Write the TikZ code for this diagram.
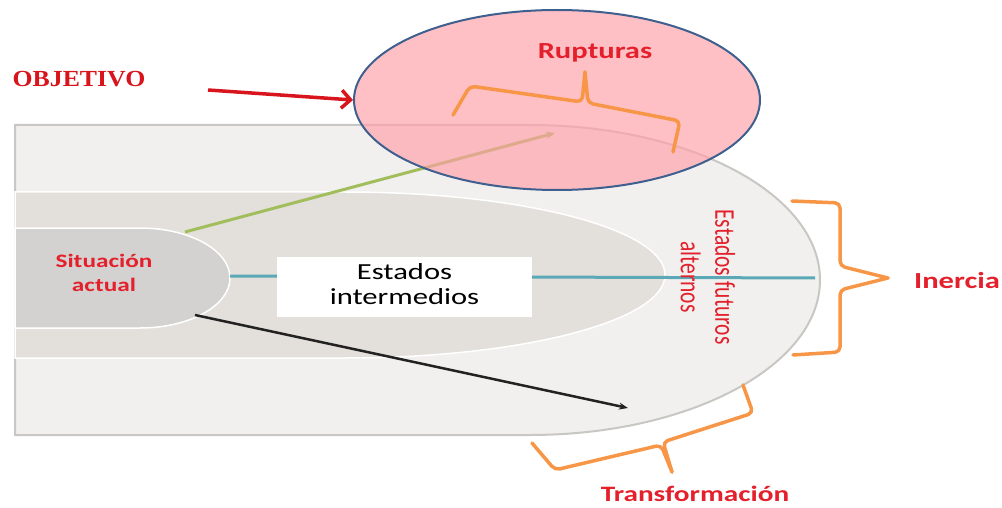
\documentclass[tikz,border=0pt]{standalone}
\usepackage{fontspec}
\setmainfont{Carlito}
\newfontfamily\objfont{Liberation Serif}
\usetikzlibrary{arrows.meta,shapes.geometric}
\definecolor{outerfill}{HTML}{F1F0EE}
\definecolor{outerline}{HTML}{C9C7C3}
\definecolor{midfill}{HTML}{E3DFDB}
\definecolor{smallfill}{HTML}{D4D2D0}
\definecolor{lblred}{HTML}{E3202B}
\definecolor{objred}{HTML}{D8141C}
\definecolor{brorange}{HTML}{F79646}
\definecolor{pinkfill}{HTML}{FF9EA6}
\definecolor{ellline}{HTML}{3F5F8E}
\definecolor{greenl}{HTML}{A2BE5C}
\definecolor{teall}{HTML}{5BA9B7}
\definecolor{darkl}{HTML}{222222}
\newcommand{\wx}[1]{\scalebox{1.33}[1]{#1}}
\newcommand{\wy}[1]{\scalebox{1}[1.33]{#1}}
\tikzset{
  lbl/.style={text=lblred, inner sep=0pt},
  bracestyle/.style={draw=brorange, line width=3.5pt, rounded corners=5pt, line cap=round, line join=round},
  bandshape/.style={draw=white, line width=1.5pt},
  conn/.style={line width=3pt, -{Stealth[length=9pt,width=7pt]}},
}
\begin{document}
\begin{tikzpicture}[x=1pt,y=-1pt]
\useasboundingbox (0,0) rectangle (1002,508);
% outer band
\draw[fill=outerfill, draw=outerline, line width=2pt]
  (15,125) -- (530,125) .. controls (690.2,125) and (820,194.4) .. (820,280)
  .. controls (820,365.6) and (690.2,435) .. (530,435) -- (15,435) -- cycle;
% middle band
\draw[bandshape, fill=midfill]
  (15,192) -- (345,192) .. controls (521.7,192) and (665,229.2) .. (665,275)
  .. controls (665,320.8) and (521.7,358) .. (345,358) -- (15,358) -- cycle;
% small shape
\draw[bandshape, fill=smallfill]
  (15,228) -- (140,228) .. controls (189.7,228) and (230,250.4) .. (230,278)
  .. controls (230,305.6) and (189.7,328) .. (140,328) -- (15,328) -- cycle;
% connector end points
\coordinate (gs) at (185,232);
\coordinate (ge) at (555,133);
\coordinate (ts) at (230,276);
\coordinate (te) at (815,278);
\coordinate (bs) at (195,315);
\coordinate (be) at (628,408);
\draw[teall, line width=3pt] (ts) -- (te);
\draw[conn, greenl] (gs) -- (ge);
\draw[conn, darkl, line width=2.5pt] (bs) -- (be);
% intermediate box
\node[fill=white, minimum width=255pt, minimum height=60pt, inner sep=0pt, align=center,
  font=\fontsize{23}{25}\selectfont] (inter) at (404.5,287)
  {\wx{\begin{tabular}{@{}c@{}}Estados\\intermedios\end{tabular}}};
% labels
\node[lbl, font=\fontsize{19}{24}\selectfont\bfseries] (sit) at (104,275)
  {\wx{\begin{tabular}{@{}c@{}}Situación\\actual\end{tabular}}};
\node[lbl, rotate=-90, font=\fontsize{21.5}{26}\selectfont] (fut) at (705,277)
  {\wy{\begin{tabular}{@{}c@{}}Estados futuros\\alternos\end{tabular}}};
% objective ellipse
\node[ellipse, minimum width=406pt, minimum height=180pt, fill=pinkfill, fill opacity=0.65,
  draw=ellline, draw opacity=1, line width=2pt] (obj) at (557,100) {};
\node[lbl, font=\fontsize{23}{28}\selectfont\bfseries] (rup) at (595,53) {\wx{Rupturas}};
\node[text=objred, inner sep=0pt, font=\objfont\fontsize{23}{28}\selectfont\bfseries] (objtxt) at (79,79) {\scalebox{1.12}[1]{OBJETIVO}};
\coordinate (rt) at (208,90);
\draw[objred, line width=3.5pt, -{Straight Barb[length=9pt,width=18pt,line width=3.5pt]}] (rt) -- (obj.west);
% braces
\draw[bracestyle] (453,115) -- (470,86) -- (582,102) -- (585,72);
\draw[bracestyle] (585,72) -- (588,103) -- (680,121) -- (673,152);
\draw[bracestyle] (792,201) -- (840,203) -- (840,266) -- (888,278);
\draw[bracestyle] (888,278) -- (840,290) -- (840,352) -- (793,355);
\draw[bracestyle] (532,443) -- (555,470) -- (661,445) -- (672,472);
\draw[bracestyle] (672,472) -- (663,442) -- (753,413) -- (743,385);
\node[lbl, font=\fontsize{23}{28}\selectfont\bfseries] (inercia) at (957,281) {\wx{Inercia}};
\node[lbl, font=\fontsize{22}{28}\selectfont\bfseries] (transf) at (695,494) {\wx{Transformación}};
\end{tikzpicture}
\end{document}
